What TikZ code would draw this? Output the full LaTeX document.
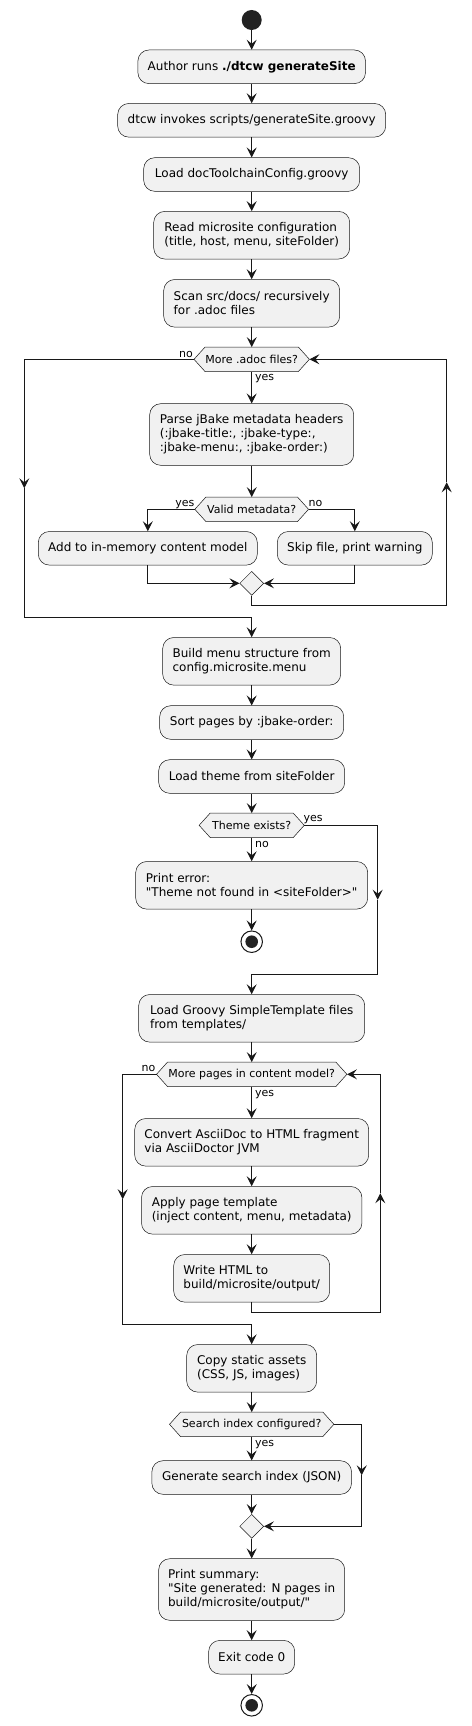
\documentclass[tikz,border=0pt]{standalone}
\usepackage{fontspec}
\newfontfamily\djv{DejaVu Sans}
\usetikzlibrary{arrows.meta,shapes.geometric}
\definecolor{boxF}{HTML}{F1F1F1}
\definecolor{lineC}{HTML}{181818}
\definecolor{dotC}{HTML}{222222}
\pgfdeclarelayer{bg}
\pgfsetlayers{bg,main}
\newcommand\hexoutline[1]{%
  \begin{pgfonlayer}{bg}
  \draw[draw=lineC,line width=0.5pt,fill=boxF] (#1.west) -- ([xshift=11pt]#1.north west) -- ([xshift=-11pt]#1.north east) -- (#1.east) -- ([xshift=-11pt]#1.south east) -- ([xshift=11pt]#1.south west) -- cycle;
  \end{pgfonlayer}}
\tikzset{
  act/.style={draw=lineC, line width=0.5pt, fill=boxF, rounded corners=11pt, inner sep=0pt, align=left, font=\djv\fontsize{12}{14}\selectfont, minimum height=33.6pt},
  twol/.style={minimum height=47.6pt},
  threel/.style={minimum height=61.6pt},
  hexnode/.style={inner sep=0pt, minimum height=24pt, font=\djv\fontsize{11}{13}\selectfont},
  merge/.style={diamond, draw=lineC, line width=0.5pt, fill=boxF, inner sep=0pt, minimum width=24pt, minimum height=24pt},
  startnode/.style={circle, fill=dotC, minimum size=20pt, inner sep=0pt},
  endnode/.style={circle, draw=lineC, line width=1pt, minimum size=21.5pt, inner sep=0pt, path picture={\fill[dotC] (path picture bounding box.center) circle (6.3pt);}},
  arr/.style={draw=lineC, line width=1pt, -{Stealth[length=10pt,width=10pt,inset=4pt]}},
  lbl/.style={font=\djv\fontsize{11}{13}\selectfont, inner sep=0pt}
}
\begin{document}
\begin{tikzpicture}[x=1pt,y=-1pt]
\useasboundingbox (0,0) rectangle (471,1726);
\begin{pgfonlayer}{bg}\fill[white] (0,0) rectangle (471,1726);\end{pgfonlayer}

% nodes
\node[startnode] (start) at (251.7,20) {};
\node[act, minimum width=227.6pt] (a1) at (251.7,66.8) {Author runs \textbf{./dtcw generateSite}};
\node[act, minimum width=268pt] (a2) at (251.7,120.3) {dtcw invokes scripts/generateSite.groovy};
\node[act, minimum width=216pt] (a3) at (251.7,174.5) {Load docToolchainConfig.groovy};
\node[act, twol, minimum width=196pt] (a4) at (251.7,235.2) {Read microsite configuration\\(title, host, menu, siteFolder)};
\node[act, twol, minimum width=176pt] (a5) at (251.7,303.3) {Scan src/docs/ recursively\\for .adoc files};
\node[hexnode, minimum width=115pt] (d1) at (251.7,359.3) {More .adoc files?};
\hexoutline{d1}
\node[act, threel, minimum width=204pt] (a6) at (251.7,434.5) {Parse jBake metadata headers\\(:jbake-title:, :jbake-type:,\\:jbake-menu:, :jbake-order:)};
\node[hexnode, minimum width=113.3pt] (d2) at (251.7,509.3) {Valid metadata?};
\hexoutline{d2}
\node[act, minimum width=219pt] (a7) at (147.8,548.3) {Add to in-memory content model};
\node[act, minimum width=155pt] (a8) at (354.8,548.3) {Skip file, print warning};
\node[merge] (m1) at (251.7,583.3) {};
\node[act, twol, minimum width=178pt] (a9) at (251.7,661.3) {Build menu structure from\\config.microsite.menu};
\node[act, minimum width=184pt] (a10) at (251.7,722.5) {Sort pages by :jbake-order:};
\node[act, minimum width=186pt] (a11) at (251.7,776.5) {Load theme from siteFolder};
\node[hexnode, minimum width=104.7pt] (d3) at (251.7,825.3) {Theme exists?};
\hexoutline{d3}
\node[act, twol, minimum width=232pt] (a12) at (251.7,885.3) {Print error:\\"Theme not found in <siteFolder>"};
\node[endnode] (end1) at (251.7,941.7) {};
\node[act, twol, minimum width=226pt] (a13) at (251.7,1018.3) {Load Groovy SimpleTemplate files\\from templates/};
\node[hexnode, minimum width=190pt] (d4) at (251.7,1074.3) {More pages in content model?};
\hexoutline{d4}
\node[act, twol, minimum width=234pt] (a14) at (251.7,1142.3) {Convert AsciiDoc to HTML fragment\\via AsciiDoctor JVM};
\node[act, twol, minimum width=220.4pt] (a15) at (251.7,1210.3) {Apply page template\\(inject content, menu, metadata)};
\node[act, twol, minimum width=156pt] (a16) at (251.7,1278.3) {Write HTML to\\build/microsite/output/};
\node[act, twol, minimum width=130pt] (a17) at (251.7,1368.3) {Copy static assets\\(CSS, JS, images)};
\node[hexnode, minimum width=164pt] (d5) at (251.7,1424.3) {Search index configured?};
\hexoutline{d5}
\node[act, minimum width=199.6pt] (a18) at (251.7,1477.5) {Generate search index (JSON)};
\node[merge] (m2) at (251.7,1526.3) {};
\node[act, threel, minimum width=186pt] (a19) at (251.7,1589.5) {Print summary:\\"Site generated: N pages in\\build/microsite/output/"};
\node[act, minimum width=86pt] (a20) at (251.7,1657.2) {Exit code 0};
\node[endnode] (end2) at (251.7,1705.3) {};

% labels
\node[lbl, anchor=base east] (n1) at (193,357.3) {no};
\node[lbl, anchor=base west] (y1) at (255,380.3) {yes};
\node[lbl, anchor=base east] (y2) at (194.5,506) {yes};
\node[lbl, anchor=base west] (n2) at (308.5,506) {no};
\node[lbl, anchor=base west] (y3) at (303.5,821.7) {yes};
\node[lbl, anchor=base west] (n3) at (255,847) {no};
\node[lbl, anchor=base east] (n4) at (155.5,1071.7) {no};
\node[lbl, anchor=base west] (y4) at (255,1096) {yes};
\node[lbl, anchor=base west] (y5) at (255,1446) {yes};

% coordinates
\coordinate (l1t) at (24.3,359.3);
\coordinate (l1m) at (24.3,488.3);
\coordinate (l1b) at (24.3,617.3);
\coordinate (j1) at (251.7,617.3);
\coordinate (r1b) at (251.7,605.3);
\coordinate (r1c) at (446.7,605.3);
\coordinate (r1m) at (446.7,482.3);
\coordinate (r1t) at (446.7,359.3);
\coordinate (b2l) at (147.8,509.3);
\coordinate (b2r) at (354.8,509.3);
\coordinate (c2l) at (147.8,583.3);
\coordinate (c2r) at (354.8,583.3);
\coordinate (t3a) at (377.7,825.3);
\coordinate (t3m) at (377.7,899.7);
\coordinate (t3b) at (377.7,974);
\coordinate (j3) at (251.7,974);
\coordinate (l4t) at (122.7,1074.3);
\coordinate (l4m) at (122.7,1199.2);
\coordinate (l4b) at (122.7,1324);
\coordinate (j4) at (251.7,1324);
\coordinate (r4b) at (251.7,1312);
\coordinate (r4c) at (380.3,1312);
\coordinate (r4m) at (380.3,1193.2);
\coordinate (r4t) at (380.3,1074.3);
\coordinate (s5a) at (361.7,1424.3);
\coordinate (s5m) at (361.7,1475.3);
\coordinate (s5b) at (361.7,1526.3);

% connectors
\draw[arr] (start.south) -- (a1.north);
\draw[arr] (a1.south) -- (a2.north);
\draw[arr] (a2.south) -- (a3.north);
\draw[arr] (a3.south) -- (a4.north);
\draw[arr] (a4.south) -- (a5.north);
\draw[arr] (a5.south) -- (d1.north);
\draw[arr] (d1.south) -- (a6.north);
\draw[arr] (a6.south) -- (d2.north);
\draw[arr] (d2.west) -- (b2l) -- (a7.north);
\draw[arr] (d2.east) -- (b2r) -- (a8.north);
\draw[arr] (a7.south) -- (c2l) -- (m1.west);
\draw[arr] (a8.south) -- (c2r) -- (m1.east);
\draw[arr] (m1.south) -- (r1b) -- (r1c) -- (r1m);
\draw[arr] (r1m) -- (r1t) -- (d1.east);
\draw[arr] (d1.west) -- (l1t) -- (l1m);
\draw[arr] (l1m) -- (l1b) -- (j1) -- (a9.north);
\draw[arr] (a9.south) -- (a10.north);
\draw[arr] (a10.south) -- (a11.north);
\draw[arr] (a11.south) -- (d3.north);
\draw[arr] (d3.south) -- (a12.north);
\draw[arr] (a12.south) -- (end1.north);
\draw[arr] (d3.east) -- (t3a) -- (t3m);
\draw[arr] (t3m) -- (t3b) -- (j3) -- (a13.north);
\draw[arr] (a13.south) -- (d4.north);
\draw[arr] (d4.south) -- (a14.north);
\draw[arr] (a14.south) -- (a15.north);
\draw[arr] (a15.south) -- (a16.north);
\draw[arr] (a16.south) -- (r4b) -- (r4c) -- (r4m);
\draw[arr] (r4m) -- (r4t) -- (d4.east);
\draw[arr] (d4.west) -- (l4t) -- (l4m);
\draw[arr] (l4m) -- (l4b) -- (j4) -- (a17.north);
\draw[arr] (a17.south) -- (d5.north);
\draw[arr] (d5.south) -- (a18.north);
\draw[arr] (a18.south) -- (m2.north);
\draw[arr] (d5.east) -- (s5a) -- (s5m);
\draw[arr] (s5m) -- (s5b) -- (m2.east);
\draw[arr] (m2.south) -- (a19.north);
\draw[arr] (a19.south) -- (a20.north);
\draw[arr] (a20.south) -- (end2.north);
\end{tikzpicture}
\end{document}
